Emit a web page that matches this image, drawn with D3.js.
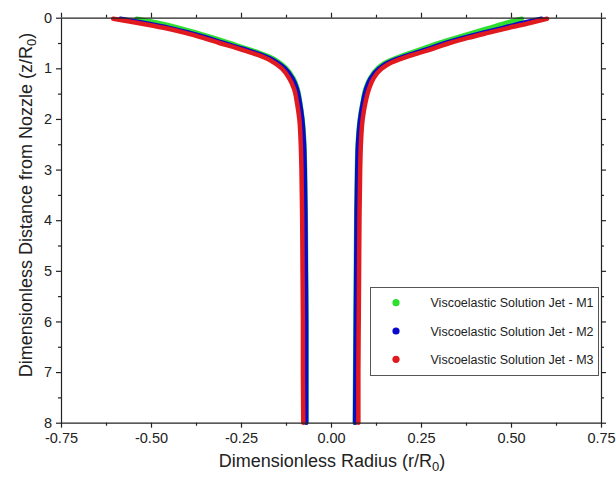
<!DOCTYPE html>
<html>
<head>
<meta charset="utf-8">
<script src="https://cdn.jsdelivr.net/npm/d3@7"></script>
<style>
  html, body { margin: 0; padding: 0; background: #fff; }
  svg { display: block; font-family: "Liberation Sans", Arial, sans-serif; }
</style>
</head>
<body>
<svg id="chart" width="616" height="479"></svg>
<script>
// Axial positions (z/R0) along the jet
const zPts = [0.02, 0.1, 0.2, 0.3, 0.4, 0.5, 0.6, 0.7, 0.8, 0.9, 1.0, 1.2, 1.4, 1.7, 2.0, 2.5, 3, 4, 5, 6, 7, 8];

// Jet profile radius (r/R0), right and left branches, for each solution
const m1Right = [0.530, 0.488, 0.440, 0.392, 0.345, 0.300, 0.258, 0.218, 0.180, 0.148, 0.129, 0.108, 0.096, 0.087, 0.080, 0.074, 0.072, 0.070, 0.069, 0.068, 0.067, 0.066];
const m1Left  = [-0.540, -0.482, -0.422, -0.372, -0.325, -0.282, -0.238, -0.197, -0.162, -0.140, -0.124, -0.104, -0.093, -0.085, -0.079, -0.074, -0.072, -0.070, -0.069, -0.068, -0.068, -0.068];
const m2Right = [0.585, 0.535, 0.478, 0.420, 0.366, 0.318, 0.276, 0.232, 0.190, 0.155, 0.134, 0.110, 0.098, 0.088, 0.081, 0.075, 0.073, 0.071, 0.070, 0.069, 0.068, 0.067];
const m2Left  = [-0.585, -0.522, -0.450, -0.392, -0.342, -0.298, -0.251, -0.207, -0.170, -0.146, -0.128, -0.107, -0.095, -0.086, -0.080, -0.075, -0.073, -0.071, -0.070, -0.069, -0.069, -0.069];
const m3Right = [0.600, 0.555, 0.494, 0.436, 0.380, 0.330, 0.288, 0.243, 0.200, 0.164, 0.142, 0.118, 0.106, 0.095, 0.088, 0.083, 0.081, 0.079, 0.078, 0.077, 0.076, 0.076];
const m3Left  = [-0.605, -0.540, -0.465, -0.405, -0.355, -0.310, -0.262, -0.218, -0.180, -0.155, -0.137, -0.116, -0.103, -0.094, -0.088, -0.084, -0.082, -0.080, -0.079, -0.078, -0.078, -0.077];

const seriesNames = ["Viscoelastic Solution Jet - M1", "Viscoelastic Solution Jet - M2", "Viscoelastic Solution Jet - M3"];
const seriesColors = ["#2ee02e", "#0a0acc", "#e01a1f"];

const xTicks = [-0.75, -0.5, -0.25, 0, 0.25, 0.5, 0.75];
const xTickLabels = ["-0.75", "-0.50", "-0.25", "0.00", "0.25", "0.50", "0.75"];
const yTicks = [0, 1, 2, 3, 4, 5, 6, 7, 8];

const series = [
  { name: seriesNames[0], color: seriesColors[0], right: m1Right, left: m1Left },
  { name: seriesNames[1], color: seriesColors[1], right: m2Right, left: m2Left },
  { name: seriesNames[2], color: seriesColors[2], right: m3Right, left: m3Left }
];

const svg = d3.select("#chart");
const plot = { left: 61, right: 601, top: 17.7, bottom: 422.7 };

const x = d3.scaleLinear().domain([-0.75, 0.75]).range([plot.left, plot.right]);
const y = d3.scaleLinear().domain([0, 8]).range([plot.top, plot.bottom]);

// Profiles
const line = d3.line()
  .x(d => x(d[0]))
  .y(d => y(d[1]))
  .curve(d3.curveMonotoneY);

const curves = svg.append("g");
series.forEach(s => {
  [s.left, s.right].forEach(branch => {
    curves.append("path")
      .datum(branch.map((r, i) => [r, zPts[i]]))
      .attr("d", line)
      .attr("fill", "none")
      .attr("stroke", s.color)
      .attr("stroke-width", 4.5)
      .attr("stroke-linejoin", "round")
      .attr("stroke-linecap", "round");
  });
});

// Axes
const minorX = d3.range(-0.75, 0.76, 0.125).filter(v => !xTicks.some(t => Math.abs(t - v) < 1e-6));
const minorY = d3.range(0.5, 8, 1);
const axisColor = "#222";

function styleAxis(g) {
  g.select(".domain").attr("stroke", axisColor).attr("stroke-width", 1.2);
  g.selectAll(".tick line").attr("stroke", axisColor).attr("stroke-width", 1.2);
  g.selectAll(".tick text").attr("fill", "#222").style("font-size", "14.5px")
    .style("font-family", "'Liberation Sans', Arial, sans-serif");
}

function minorTicks(axis, values) {
  return g => {
    g.call(axis.tickValues(values).tickFormat("").tickSizeInner(3).tickSizeOuter(0));
    g.select(".domain").remove();
    g.selectAll("line").attr("stroke", axisColor).attr("stroke-width", 1.2);
  };
}

// bottom
const gb = svg.append("g").attr("transform", `translate(0,${plot.bottom})`)
  .call(d3.axisBottom(x).tickValues(xTicks).tickFormat((d, i) => xTickLabels[i]).tickSizeInner(5).tickSizeOuter(0).tickPadding(5));
styleAxis(gb);
svg.append("g").attr("transform", `translate(0,${plot.bottom})`).call(minorTicks(d3.axisBottom(x), minorX));

// top
const gt = svg.append("g").attr("transform", `translate(0,${plot.top})`)
  .call(d3.axisTop(x).tickValues(xTicks).tickFormat("").tickSizeInner(5).tickSizeOuter(0));
styleAxis(gt);
svg.append("g").attr("transform", `translate(0,${plot.top})`).call(minorTicks(d3.axisTop(x), minorX));

// left
const gl = svg.append("g").attr("transform", `translate(${plot.left},0)`)
  .call(d3.axisLeft(y).tickValues(yTicks).tickFormat(d3.format("d")).tickSizeInner(5).tickSizeOuter(0).tickPadding(4));
styleAxis(gl);
svg.append("g").attr("transform", `translate(${plot.left},0)`).call(minorTicks(d3.axisLeft(y), minorY));

// right
const gr = svg.append("g").attr("transform", `translate(${plot.right},0)`)
  .call(d3.axisRight(y).tickValues(yTicks).tickFormat("").tickSizeInner(5).tickSizeOuter(0));
styleAxis(gr);
svg.append("g").attr("transform", `translate(${plot.right},0)`).call(minorTicks(d3.axisRight(y), minorY));

// Axis titles
const xt = svg.append("text")
  .attr("x", (plot.left + plot.right) / 2 + 1)
  .attr("y", 467)
  .attr("text-anchor", "middle")
  .style("font-size", "18px")
  .attr("fill", "#222");
xt.append("tspan").text("Dimensionless Radius (r/R");
xt.append("tspan").text("0").attr("dy", 4).style("font-size", "13px");
xt.append("tspan").text(")").attr("dy", -4);

const yt = svg.append("text")
  .attr("transform", "translate(32,205) rotate(-90)")
  .attr("text-anchor", "middle")
  .style("font-size", "18px")
  .attr("fill", "#222");
yt.append("tspan").text("Dimensionless Distance from Nozzle (z/R");
yt.append("tspan").text("0").attr("dy", 4).style("font-size", "13px");
yt.append("tspan").text(")").attr("dy", -4);

// Legend
const legend = svg.append("g");
legend.append("rect")
  .attr("x", 370.5).attr("y", 287.5)
  .attr("width", 228).attr("height", 88)
  .attr("fill", "#fff")
  .attr("stroke", "#555")
  .attr("stroke-width", 1);
series.forEach((s, i) => {
  const cy = 302.7 + i * 28.3;
  legend.append("circle")
    .attr("cx", 396).attr("cy", cy).attr("r", 3.6)
    .attr("fill", s.color);
  legend.append("text")
    .attr("x", 430.5).attr("y", cy + 4.5)
    .style("font-size", "12.5px")
    .attr("fill", "#222")
    .text(s.name);
});
</script>
</body>
</html>
